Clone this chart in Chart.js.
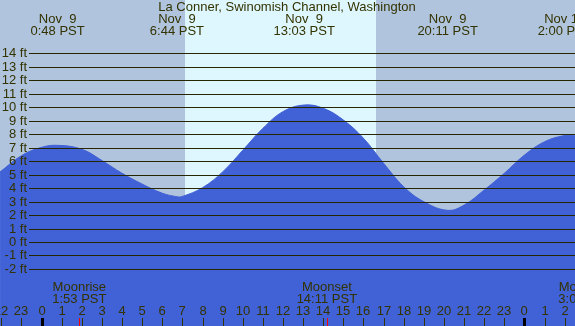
<!DOCTYPE html>
<html>
<head>
<meta charset="utf-8">
<script src="https://cdn.jsdelivr.net/npm/chart.js@4.4.1/dist/chart.umd.min.js"></script>
<style>
  body { margin: 0; background: #b0c4de; }
  canvas { display: block; }
</style>
</head>
<body>
<canvas id="canvasTide" width="575" height="326"></canvas>
<script>
// hours after midnight Nov 9 (PST) vs tide height in ft
var tideHours = [-2.06, -1, 0, 0.8, 2, 3, 4, 5, 6, 6.73, 7, 8, 9, 10, 11, 12, 13.05, 14, 15, 16, 17, 18, 19, 20.18, 21, 22, 23, 24, 25, 26, 26.51];
var tideFeet  = [5.2, 6.4, 7.02, 7.17, 6.88, 6.05, 5.1, 4.3, 3.62, 3.36, 3.38, 4.03, 5.2, 6.8, 8.43, 9.67, 10.16, 9.92, 9.05, 7.69, 5.84, 4.1, 2.99, 2.35, 2.74, 3.86, 5.1, 6.45, 7.44, 7.9, 7.88];

// high / low tide labels along the top
var extremeHours = [0.8, 6.73, 13.05, 20.18, 26.0];
var extremeDates = ["Nov  9", "Nov  9", "Nov  9", "Nov  9", "Nov 10"];
var extremeTimes = ["0:48 PST", "6:44 PST", "13:03 PST", "20:11 PST", "2:00 PST"];

// moon events along the bottom
var moonHours = [1.88, 14.18, 27.03];
var moonNames = ["Moonrise", "Moonset", "Moonrise"];
var moonTimes = ["1:53 PST", "14:11 PST", "3:02 PST"];

// daylight band (sunrise, sunset)
var sunHours = [7.13, 16.62];

var feetTicks = [-2, -1, 0, 1, 2, 3, 4, 5, 6, 7, 8, 9, 10, 11, 12, 13, 14];
var hourTicks = [-2, -1, 0, 1, 2, 3, 4, 5, 6, 7, 8, 9, 10, 11, 12, 13, 14, 15, 16, 17, 18, 19, 20, 21, 22, 23, 24, 25, 26];

var title = "La Conner, Swinomish Channel, Washington";
var textColor = "#333300";
var font = "13px 'Liberation Sans', Arial, sans-serif";

var points = [];
for (var i = 0; i < tideHours.length; i++) {
  points.push({ x: tideHours[i], y: tideFeet[i] });
}

var tidePlugin = {
  id: "tideDecor",
  beforeDraw: function(chart) {
    var ctx = chart.ctx;
    var xs = chart.scales.x;
    var area = chart.chartArea;
    ctx.save();
    ctx.fillStyle = "#b0c4de";
    ctx.fillRect(0, 0, chart.width, chart.height);
    var x0 = Math.round(xs.getPixelForValue(sunHours[0]));
    var x1 = Math.round(xs.getPixelForValue(sunHours[1]));
    ctx.fillStyle = "#def7fe";
    ctx.fillRect(x0, area.top, x1 - x0, area.bottom - area.top);
    ctx.restore();
  },
  afterDatasetsDraw: function(chart) {
    var ctx = chart.ctx;
    var xs = chart.scales.x;
    var ys = chart.scales.y;
    var w = chart.width;
    var h = chart.height;
    ctx.save();

    // horizontal ft lines and labels
    ctx.font = font;
    ctx.fillStyle = textColor;
    ctx.textAlign = "right";
    ctx.textBaseline = "middle";
    for (var i = 0; i < feetTicks.length; i++) {
      var y = Math.round(ys.getPixelForValue(feetTicks[i])) + 0.5;
      ctx.strokeStyle = "#262600";
      ctx.lineWidth = 1;
      ctx.beginPath();
      ctx.moveTo(29, y);
      ctx.lineTo(w, y);
      ctx.stroke();
      ctx.fillText(feetTicks[i] + " ft", 27, y);
    }

    // title + tide extremes
    ctx.textAlign = "center";
    ctx.fillText(title, 287, 7);
    for (var i = 0; i < extremeHours.length; i++) {
      var x = xs.getPixelForValue(extremeHours[i]);
      ctx.fillText(extremeDates[i], x, 19);
      ctx.fillText(extremeTimes[i], x, 31);
    }

    // moon labels
    for (var i = 0; i < moonHours.length; i++) {
      var x = xs.getPixelForValue(moonHours[i]);
      ctx.fillText(moonNames[i], x, 287);
      ctx.fillText(moonTimes[i], x, 299);
    }

    // hour labels and ticks
    for (var i = 0; i < hourTicks.length; i++) {
      var hr = hourTicks[i];
      var x = Math.round(xs.getPixelForValue(hr));
      var lbl = ((hr % 24) + 24) % 24;
      ctx.fillStyle = textColor;
      ctx.fillText(String(lbl), x, 311);
      if (lbl == 0) {
        ctx.fillStyle = "#000000";
        ctx.fillRect(x - 1, 318, 3, h - 318);
      } else {
        ctx.fillStyle = textColor;
        ctx.fillRect(x, 318, 1, h - 318);
      }
    }
    ctx.fillStyle = "#ff0000";
    for (var i = 0; i < moonHours.length; i++) {
      var x = Math.round(xs.getPixelForValue(moonHours[i]));
      ctx.fillRect(x, 318, 1, h - 318);
    }
    ctx.restore();
  }
};

var tideChart = new Chart(document.getElementById("canvasTide"), {
  type: "line",
  data: {
    datasets: [{
      data: points,
      fill: "start",
      backgroundColor: "#4161d6",
      borderColor: "#4161d6",
      borderWidth: 1,
      pointRadius: 0,
      tension: 0.4
    }]
  },
  options: {
    responsive: false,
    animation: false,
    devicePixelRatio: 1,
    layout: { padding: 0 },
    plugins: { legend: { display: false }, tooltip: { enabled: false } },
    scales: {
      x: { type: "linear", display: false, min: -2.063, max: 26.51 },
      y: { type: "linear", display: false, min: -6.23, max: 17.95 }
    }
  },
  plugins: [tidePlugin]
});
</script>
</body>
</html>
